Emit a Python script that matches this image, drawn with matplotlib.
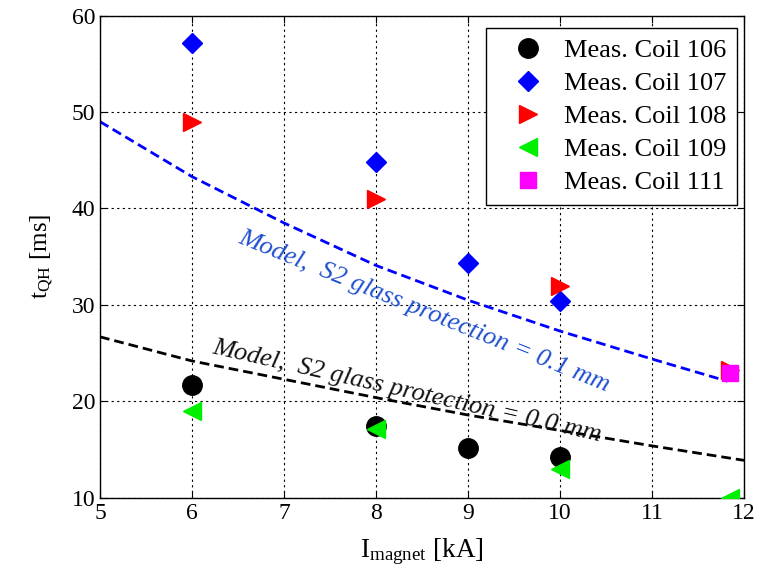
import numpy as np
import matplotlib
matplotlib.use('Agg')
import matplotlib.pyplot as plt

plt.rcParams['font.family'] = 'Liberation Serif'
plt.rcParams['mathtext.fontset'] = 'custom'
plt.rcParams['mathtext.rm'] = 'Liberation Serif'
plt.rcParams['mathtext.it'] = 'Liberation Serif:italic'

# measured quench heater delay vs magnet current
i106 = [6, 8, 9, 10]
t106 = [21.7, 17.5, 15.2, 14.2]
i107 = [6, 8, 9, 10]
t107 = [57.2, 44.8, 34.4, 30.4]
i108 = [6, 8, 10, 11.85]
t108 = [49.0, 41.0, 32.0, 23.3]
i109 = [6, 8, 10, 11.85]
t109 = [19.0, 17.1, 13.0, 10.0]
i111 = [11.85]
t111 = [23.0]

# model curves
i_mod01 = [5, 6, 7, 8, 9, 10, 11, 11.82]
t_mod01 = [49.0, 43.3, 38.5, 34.1, 30.5, 27.3, 24.4, 22.1]
i_mod00 = [5, 6, 7, 8, 9, 10, 11, 12]
t_mod00 = [26.7, 24.2, 22.3, 20.4, 18.6, 17.0, 15.4, 13.9]

fig = plt.figure(figsize=(7.67, 5.72), dpi=100)
ax = fig.add_axes([0.1304, 0.1294, 0.8396, 0.8435])

ax.plot(i_mod01, t_mod01, color='#0000ff', lw=2, dashes=(3.5, 1.8), zorder=2)
ax.plot(i_mod00, t_mod00, color='black', lw=2, dashes=(3.5, 1.8), zorder=2)

ax.plot(i106, t106, 'o', color='black', ms=14, label='Meas. Coil 106', zorder=3)
ax.plot(i107, t107, 'D', color='#0000ff', ms=10, label='Meas. Coil 107', zorder=3)
ax.plot(i108, t108, '>', color='#ff0000', ms=13, label='Meas. Coil 108', zorder=3)
ax.plot(i109, t109, '<', color='#00ee00', ms=13, label='Meas. Coil 109', zorder=3)
ax.plot(i111, t111, 's', color='#ff00ff', ms=11, label='Meas. Coil 111', zorder=4)

ax.text(6.49, 36.45, 'Model,  S2 glass protection = 0.1 mm', color='#1f4fd0',
        fontsize=19, style='italic', rotation=-22, rotation_mode='anchor',
        ha='left', va='baseline')
ax.text(6.21, 25.0, 'Model,  S2 glass protection = 0.0 mm', color='#111111',
        fontsize=19, style='italic', rotation=-12.8, rotation_mode='anchor',
        ha='left', va='baseline')

ax.set_xlim(5, 12)
ax.set_ylim(10, 60)
ax.set_xticks(np.arange(5, 13, 1))
ax.set_yticks(np.arange(10, 61, 10))
ax.grid(True, color='black', ls=(0, (2, 3)), lw=0.8)
ax.tick_params(direction='in', top=True, right=True, labelsize=17, length=5)
for s in ax.spines.values():
    s.set_linewidth(1)

ax.set_xlabel(r'$\mathregular{I_{magnet}}$ [kA]', fontsize=19.5, labelpad=9)
ax.set_ylabel(r'$\mathregular{t_{QH}}$ [ms]', fontsize=18, labelpad=12)

leg = ax.legend(loc='upper right', fontsize=19, fancybox=False, framealpha=1,
                edgecolor='black', handlelength=2.4, handletextpad=0.15,
                borderpad=0.4, labelspacing=0.36, numpoints=1,
                borderaxespad=0, bbox_to_anchor=(0.989, 0.974))
leg.get_frame().set_linewidth(1)

fig.savefig('out.png', dpi=100)
